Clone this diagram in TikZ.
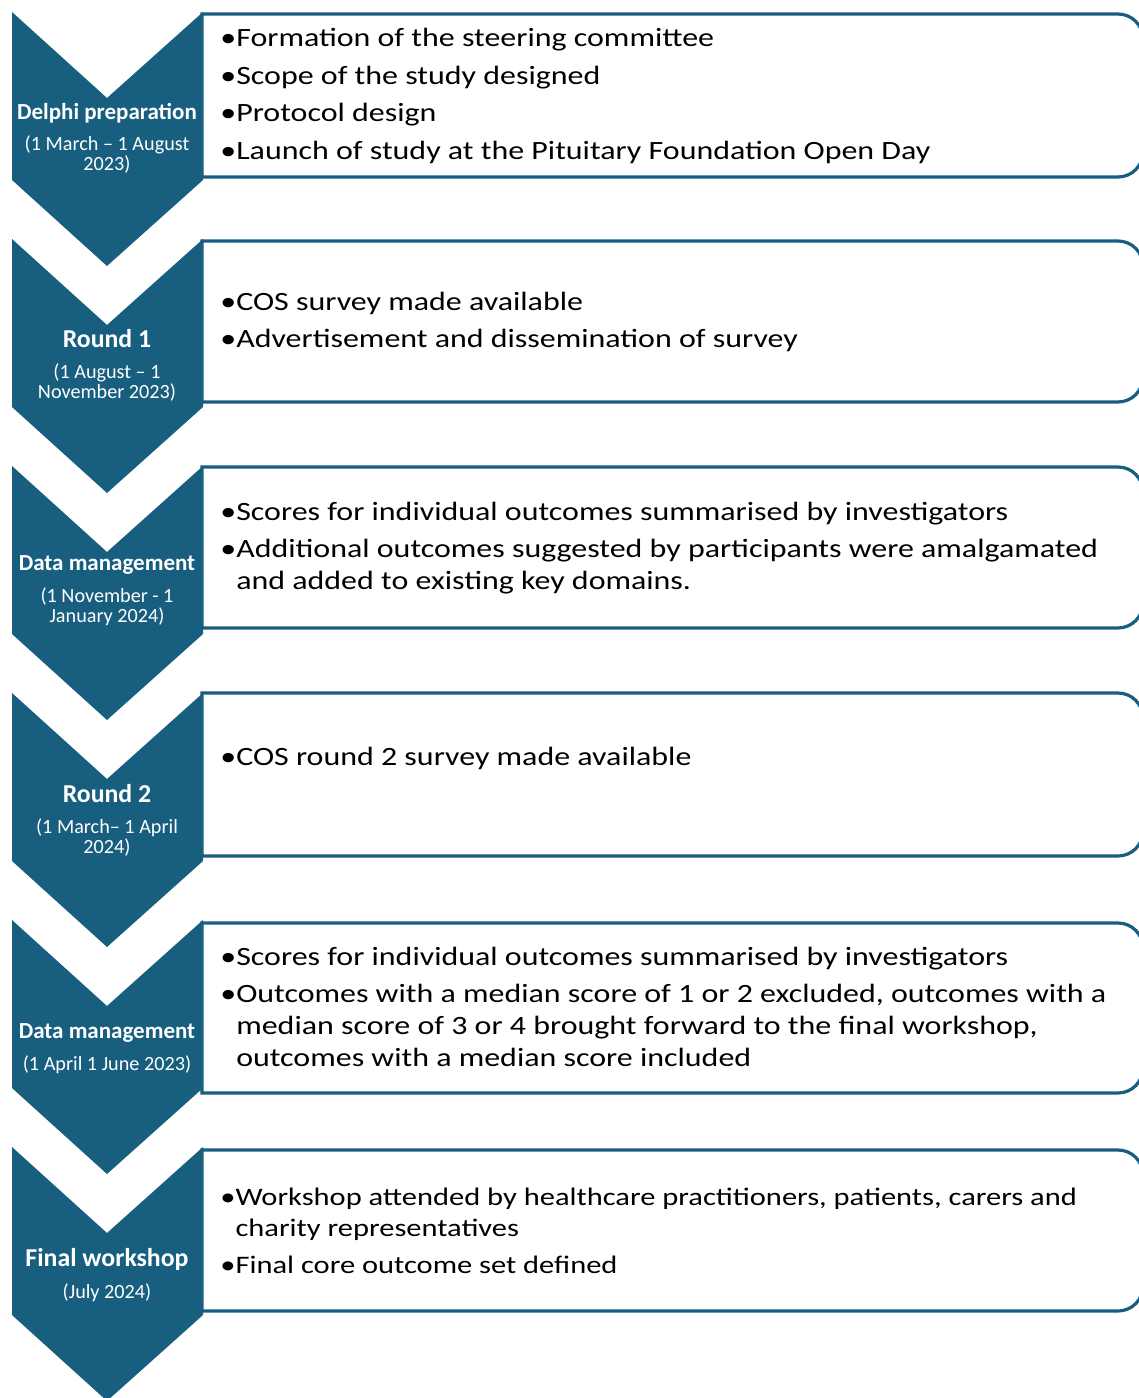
\documentclass[tikz,border=0pt]{standalone}
\usepackage{fontspec}
\setmainfont{Carlito}
\newfontfamily\widebody[FakeStretch=1.21]{Carlito}
\definecolor{chevblue}{RGB}{24,94,127}
\tikzset{
  chevron/.style={fill=chevblue, draw=none},
  panel/.style={draw=chevblue, line width=1.6pt, fill=white},
  stitle/.style={text=white, font=\bfseries\fontsize{11.5}{12}\selectfont, inner sep=0pt},
  stitlebig/.style={text=white, font=\bfseries\fontsize{12.9}{14}\selectfont, inner sep=0pt},
  sdate/.style={text=white, font=\fontsize{10.1}{10}\selectfont, align=center, inner sep=0pt},
  body/.style={text=black, font=\widebody\fontsize{13.2}{16}\selectfont, align=left, anchor=west, inner sep=0pt},
  bodysmall/.style={body, font=\widebody\fontsize{12.6}{15.6}\selectfont}
}
\newcommand{\chevpath}[1]{(12,#1) -- (107,#1+86) -- (203,#1) -- (203,#1+168) -- (107,#1+254) -- (12,#1+168) -- cycle}
\newcommand{\panelpath}[2]{(202,#1) -- (1118,#1) arc[start angle=90,end angle=0,radius=12.5pt] -- (1143,#2-25) arc[start angle=0,end angle=-90,radius=12.5pt] -- (202,#2) -- cycle}
\newcommand{\bsep}{\\[2.75pt]}
\newcommand{\cont}{\phantom{\textbullet}}
\begin{document}
\begin{tikzpicture}[x=0.5pt,y=-0.5pt]
\useasboundingbox (0,0) rectangle (1139,1398);
\clip (0,0) rectangle (1139,1398);
% chevrons
\fill[chevron] \chevpath{12};
\fill[chevron] \chevpath{239};
\fill[chevron] \chevpath{466};
\fill[chevron] \chevpath{693};
\fill[chevron] \chevpath{920};
\fill[chevron] \chevpath{1147};
% panels
\draw[panel] \panelpath{14}{177};
\draw[panel] \panelpath{241}{402};
\draw[panel] \panelpath{467}{628};
\draw[panel] \panelpath{693}{856};
\draw[panel] \panelpath{923}{1093};
\draw[panel] \panelpath{1150}{1311};
% chevron labels
\node[stitle] (t1) at (107,113) {Delphi preparation};
\node[sdate] (d1) at (107,155) {(1 March – 1 August\\2023)};
\node[stitlebig] (t2) at (107,339) {Round 1};
\node[sdate] (d2) at (107,383) {(1 August – 1\\November 2023)};
\node[stitle] (t3) at (107,565) {Data management};
\node[sdate] (d3) at (107,607) {(1 November - 1\\January 2024)};
\node[stitlebig] (t4) at (107,794) {Round 2};
\node[sdate] (d4) at (107,838) {(1 March– 1 April\\2024)};
\node[stitle] (t5) at (107,1033) {Data management};
\node[sdate] (d5) at (107,1065) {(1 April 1 June 2023)};
\node[stitlebig] (t6) at (107,1259) {Final workshop};
\node[sdate] (d6) at (107,1293) {(July 2024)};
% panel texts
\node[body] (b1) at (220,96) {\textbullet Formation of the steering committee\bsep
\textbullet Scope of the study designed\bsep
\textbullet Protocol design\bsep
\textbullet Launch of study at the Pituitary Foundation Open Day};
\node[body] (b2) at (220,322) {\textbullet COS survey made available\bsep
\textbullet Advertisement and dissemination of survey};
\node[body] (b3) at (220,548) {\textbullet Scores for individual outcomes summarised by investigators\bsep
\textbullet Additional outcomes suggested by participants were amalgamated\\
\cont and added to existing key domains.};
\node[body] (b4) at (220,758.5) {\textbullet COS round 2 survey made available};
\node[body] (b5) at (220,1007) {\textbullet Scores for individual outcomes summarised by investigators\bsep
\textbullet Outcomes with a median score of 1 or 2 excluded, outcomes with a\\
\cont median score of 3 or 4 brought forward to the final workshop,\\
\cont outcomes with a median score included};
\node[bodysmall] (b6) at (220,1231) {\textbullet Workshop attended by healthcare practitioners, patients, carers and\\
\cont charity representatives\bsep
\textbullet Final core outcome set defined};
\end{tikzpicture}
\end{document}
